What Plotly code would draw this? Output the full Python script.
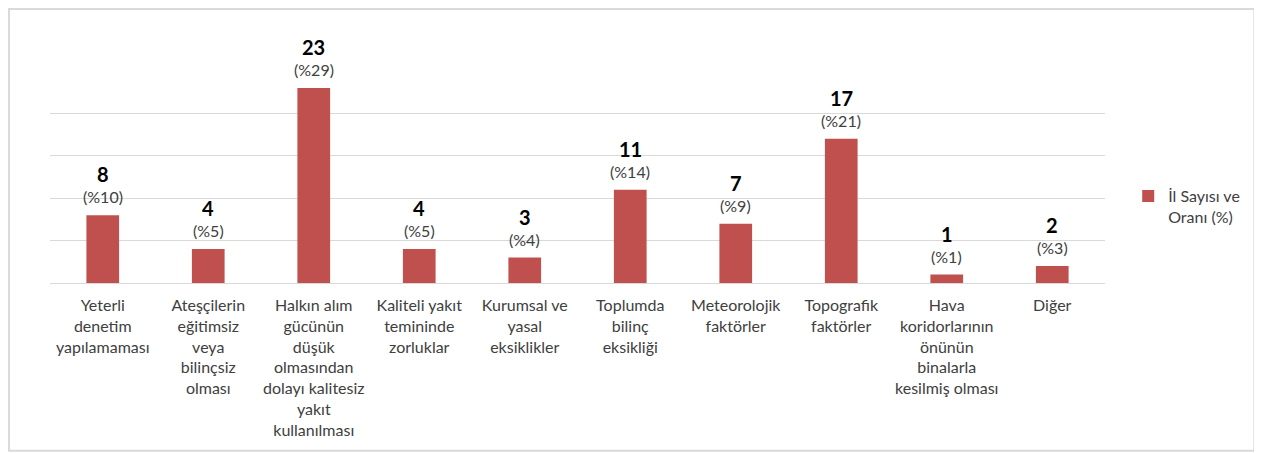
import plotly.graph_objects as go

# Chart data
categories = [
    "Yeterli<br>denetim<br>yapılamaması",
    "Ateşçilerin<br>eğitimsiz<br>veya<br>bilinçsiz<br>olması",
    "Halkın alım<br>gücünün<br>düşük<br>olmasından<br>dolayı kalitesiz<br>yakıt<br>kullanılması",
    "Kaliteli yakıt<br>temininde<br>zorluklar",
    "Kurumsal ve<br>yasal<br>eksiklikler",
    "Toplumda<br>bilinç<br>eksikliği",
    "Meteorolojik<br>faktörler",
    "Topografik<br>faktörler",
    "Hava<br>koridorlarının<br>önünün<br>binalarla<br>kesilmiş olması",
    "Diğer",
]
counts = [8, 4, 23, 4, 3, 11, 7, 17, 1, 2]
percents = [10, 5, 29, 5, 4, 14, 9, 21, 1, 3]
series_name = "İl Sayısı ve<br>Oranı (%)"

FONT = "Lato"
BAR_COLOR = "#C0504D"
GRID_COLOR = "#D9D9D9"
TEXT_COLOR = "#404040"


def main():
    fig = go.Figure()
    fig.add_trace(go.Bar(
        x=categories,
        y=counts,
        name=series_name,
        marker=dict(color=BAR_COLOR, line=dict(width=0)),
        showlegend=True,
    ))

    # value labels: bold count on top, percentage below it
    for cat, n, p in zip(categories, counts, percents):
        fig.add_annotation(
            x=cat, y=n, text=f"(%{p})", showarrow=False,
            yanchor="bottom", yshift=7,
            font=dict(family=FONT, size=16, color=TEXT_COLOR),
        )
        fig.add_annotation(
            x=cat, y=n, text=f"<b>{n}</b>", showarrow=False,
            yanchor="bottom", yshift=27,
            font=dict(family=FONT, size=20, color="#000000"),
        )

    # outer chart border
    fig.add_shape(
        type="rect", xref="paper", yref="paper",
        x0=-0.0388, x1=1.1416, y0=-0.791, y1=1.293,
        line=dict(color="#D9D9D9", width=2), layer="below",
    )

    fig.update_layout(
        width=1254,
        height=445,
        margin=dict(l=41.5, r=156.5, t=62.7, b=170, autoexpand=False),
        paper_bgcolor="white",
        plot_bgcolor="white",
        bargap=0.69,
        font=dict(family=FONT, size=16, color=TEXT_COLOR),
        xaxis=dict(
            showgrid=False, ticks="", showline=False,
            tickfont=dict(family=FONT, size=16, color=TEXT_COLOR),
            tickangle=0, ticklabelstandoff=11,
        ),
        yaxis=dict(
            range=[0, 25], dtick=5, showticklabels=False,
            showgrid=True, gridcolor=GRID_COLOR, gridwidth=1,
            zeroline=True, zerolinecolor=GRID_COLOR, zerolinewidth=1,
        ),
        legend=dict(
            x=1.022, y=0.49, xanchor="left", yanchor="top",
            valign="top",
            font=dict(family=FONT, size=16, color=TEXT_COLOR),
            itemwidth=30,
        ),
    )

    fig.write_html("out.html")


if __name__ == "__main__":
    main()
